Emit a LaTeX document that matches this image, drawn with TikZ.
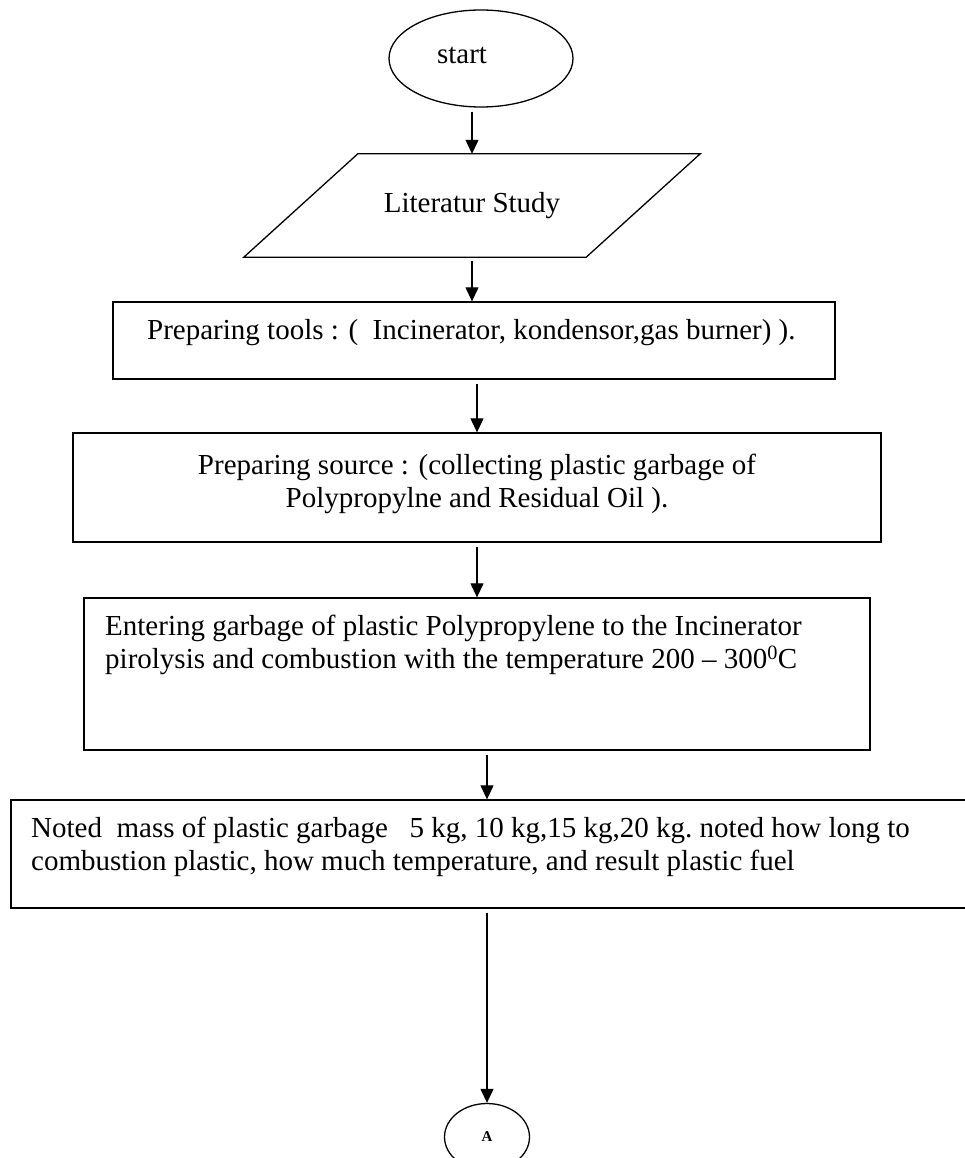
\documentclass[tikz,border=0pt]{standalone}
\usepackage{fontspec}
\setmainfont{Liberation Serif}
\usetikzlibrary{shapes.geometric,arrows.meta}

\begin{document}
\begin{tikzpicture}[x=1pt, y=-1pt,
    box/.style={draw, line width=1.3pt, inner sep=0pt},
    flow/.style={-{Triangle[length=14pt, width=13pt]}, line width=1.2pt, shorten <=4pt},
    txt/.style={inner sep=0pt, font=\fontsize{29}{33}\selectfont}]

    \useasboundingbox (0, 0) rectangle (965, 1158); % page

    % Terminals
    \node[box, ellipse, minimum width=184, minimum height=97] (start) at (481, 58.5) {}; % start
    \node[txt] (starttxt) at (462, 55) {start};
    \node[box, ellipse, minimum width=85, minimum height=67] (A) at (487, 1137) {\fontsize{15}{18}\selectfont\bfseries A}; % connector

    % Input
    \node[txt, minimum width=342, minimum height=103] (lit) at (472, 205.5) {Literatur Study};
    \draw[box] ([xshift=57]lit.north west) -- ([xshift=57]lit.north east)
        -- ([xshift=-57]lit.south east) -- ([xshift=-57]lit.south west) -- cycle; % parallelogram

    % Process boxes
    \node[box, minimum width=722, minimum height=77] (tools) at (474, 340.5) {};
    \node[txt, anchor=west] (toolstxt) at (147, 333) {Preparing tools : (\ \ Incinerator, kondensor,gas burner) ).};

    \node[box, minimum width=808, minimum height=109] (source) at (477, 487.5) {};
    \node[txt, align=center] (sourcetxt) at (477, 484) {Preparing source : (collecting plastic garbage of\\Polypropylne and Residual Oil ).};

    \node[box, minimum width=786, minimum height=152] (incin) at (477, 674) {};
    \node[txt, anchor=west, align=left] (incintxt) at (105, 645) {Entering garbage of plastic Polypropylene to the Incinerator\\pirolysis and combustion with the temperature 200 -- 300\textsuperscript{0}C};

    \node[box, minimum width=989, minimum height=108] (noted) at (505.5, 854) {};
    \node[txt, anchor=west, align=left] (notedtxt) at (31, 847) {Noted\ \ mass of plastic garbage \ \ 5 kg, 10 kg,15 kg,20 kg.\ noted how long to\\combustion plastic, how much temperature, and result plastic fuel};

    % Connectors
    \draw[flow] (start.south -| lit) -- (lit.north);
    \draw[flow] (lit.south) -- (lit.south |- tools.north);
    \draw[flow] (source.north |- tools.south) -- (source.north);
    \draw[flow] (incin.north |- source.south) -- (incin.north);
    \draw[flow] (A |- incin.south) -- (A |- noted.north);
    \draw[flow] (A |- noted.south) -- (A.north);

\end{tikzpicture}
\end{document}
